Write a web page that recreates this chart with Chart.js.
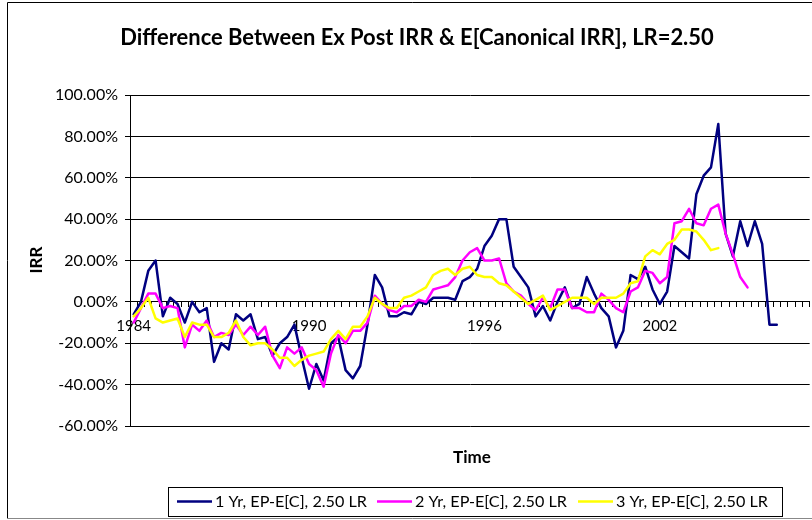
<!DOCTYPE html>
<html><head><meta charset="utf-8">
<script src="https://cdn.jsdelivr.net/npm/chart.js@4/dist/chart.umd.min.js"></script>
<style>
html,body{margin:0;padding:0;background:#fff;overflow:hidden;width:812px;height:520px}
#wrap{position:relative;width:816px;height:520px}
</style></head>
<body><div id="wrap"><canvas id="c" width="816" height="520"></canvas></div>
<script>
// ---- data ----
const startYear = 1984;
const categoryCount = 93; // quarterly categories on the axis
const categories = [];
for (let i = 0; i < categoryCount; i++) categories.push(String(startYear + Math.floor(i / 4)) + ' Q' + (i % 4 + 1));
const tickLabels = ['1984', '1990', '1996', '2002'];
const tickEvery = 24;
const yTicks = [-60, -40, -20, 0, 20, 40, 60, 80, 100];

const titleText = 'Difference Between Ex Post IRR & E[Canonical IRR], LR=2.50';
const xTitle = 'Time';
const yTitle = 'IRR';
const seriesNames = ['1 Yr, EP-E[C], 2.50 LR', '2 Yr, EP-E[C], 2.50 LR', '3 Yr, EP-E[C], 2.50 LR'];
const seriesColors = ['#000080', '#FF00FF', '#FFFF00'];

// values in percent
const oneYr = [-6, 0, 15, 20, -7, 2, -1, -10, 0, -5,
  -3, -29, -20, -23, -6, -9, -6, -18, -17, -26,
  -20, -17, -11, -27, -42, -30, -38, -20, -17, -33,
  -37, -31, -11, 13, 7, -7, -7, -5, -6, 0,
  -1, 2, 2, 2, 1, 10, 12, 16, 27, 32,
  40, 40, 17, 12, 7, -7, -2, -9, 0, 7,
  -3, -1, 12, 4, -3, -7, -22, -14, 13, 11,
  17, 6, -1, 5, 27, 24, 21, 52, 61, 65,
  86, 33, 22, 39, 27, 39, 28, -11, -11];
const twoYr = [-10, -3, 4, 4, -3, -2, -3, -22, -11, -14,
  -9, -17, -15, -16, -11, -16, -12, -16, -12, -26,
  -32, -22, -25, -22, -30, -33, -41, -25, -16, -20,
  -14, -14, -10, 3, -1, -4, -5, -2, -2, 1,
  0, 6, 7, 8, 12, 20, 24, 26, 20, 20,
  21, 9, 5, 3, -1, -4, 2, -3, 6, 6,
  -3, -3, -5, -5, 4, 1, -3, -5, 5, 7,
  15, 14, 9, 12, 38, 39, 45, 38, 37, 45,
  47, 33, 23, 12, 7];
const threeYr = [-7, -3, 2, -8, -10, -9, -8, -17, -10, -11,
  -11, -17, -17, -15, -9, -17, -21, -20, -20, -23,
  -27, -27, -31, -28, -26, -25, -24, -18, -14, -18,
  -12, -12, -7, 2, -1, -3, -3, 2, 3, 5,
  7, 13, 15, 16, 13, 16, 17, 13, 12, 12,
  9, 8, 5, 2, -1, 1, 3, -4, -2, 0,
  2, 2, 2, -1, 2, 2, 2, 4, 9, 10,
  22, 25, 23, 28, 30, 35, 35, 34, 30, 25,
  26];

// ---- drawing ----
const FONT = 'Lato, "DejaVu Sans", sans-serif';
Chart.defaults.font.family = FONT;
Chart.defaults.color = '#000';

function fitFont(ctx, text, weight, baseSize, targetWidth) {
  ctx.font = weight + ' ' + baseSize + 'px ' + FONT;
  const w = ctx.measureText(text).width;
  const size = Math.min(baseSize * 1.3, Math.max(baseSize * 0.8, baseSize * targetWidth / w));
  ctx.font = weight + ' ' + size.toFixed(2) + 'px ' + FONT;
}

const decor = {
  id: 'decor',
  afterDraw(chart) {
    const ctx = chart.ctx;
    ctx.save();
    // chart-area frame
    ctx.lineWidth = 1;
    ctx.strokeStyle = '#000';
    ctx.beginPath();
    ctx.moveTo(7.5, 518.5); ctx.lineTo(7.5, 2.5); ctx.lineTo(830, 2.5);
    ctx.stroke();
    ctx.strokeStyle = '#888';
    ctx.beginPath(); ctx.moveTo(7.5, 518.5); ctx.lineTo(830, 518.5); ctx.stroke();

    // title
    ctx.fillStyle = '#000';
    ctx.textAlign = 'center';
    ctx.textBaseline = 'middle';
    fitFont(ctx, titleText, 'bold', 20, 594);
    ctx.fillText(titleText, 417, 38);

    // axis titles
    ctx.font = 'bold 17px ' + FONT;
    ctx.fillText(xTitle, 472, 458);
    ctx.save();
    ctx.translate(37, 260);
    ctx.rotate(-Math.PI / 2);
    ctx.fillText(yTitle, 0, 0);
    ctx.restore();

    // legend
    ctx.strokeStyle = '#000';
    ctx.lineWidth = 1;
    ctx.strokeRect(168.5, 487.5, 614, 29);
    const starts = [177, 377, 578];
    fitFont(ctx, seriesNames[0], 'normal', 15, 152);
    ctx.textAlign = 'left';
    for (let k = 0; k < 3; k++) {
      ctx.strokeStyle = seriesColors[k];
      ctx.lineWidth = 2.5;
      ctx.beginPath(); ctx.moveTo(starts[k], 501.5); ctx.lineTo(starts[k] + 35, 501.5); ctx.stroke();
      ctx.fillStyle = '#000';
      ctx.fillText(seriesNames[k], starts[k] + 38, 502);
    }
    ctx.restore();
  }
};

new Chart(document.getElementById('c'), {
  type: 'line',
  data: {
    labels: categories,
    datasets: [
      { label: seriesNames[0], data: oneYr, borderColor: seriesColors[0], backgroundColor: seriesColors[0], order: 2 },
      { label: seriesNames[1], data: twoYr, borderColor: seriesColors[1], backgroundColor: seriesColors[1], order: 1 },
      { label: seriesNames[2], data: threeYr, borderColor: seriesColors[2], backgroundColor: seriesColors[2], order: 0 }
    ]
  },
  options: {
    responsive: false,
    animation: false,
    devicePixelRatio: 1,
    events: [],
    layout: { padding: { left: 0, right: 1, top: 95, bottom: 94 } },
    elements: {
      line: { borderWidth: 2.5, tension: 0, borderJoinStyle: 'round', borderCapStyle: 'round' },
      point: { radius: 0 }
    },
    plugins: { legend: { display: false }, title: { display: false }, tooltip: { enabled: false } },
    scales: {
      y: {
        min: -60, max: 100,
        afterFit(scale) { scale.width = 130; },
        afterBuildTicks(scale) { scale.ticks = yTicks.map(v => ({ value: v })); },
        ticks: { font: { size: 16 }, padding: 7, callback: v => v.toFixed(2) + '%' },
        grid: { color: '#000', lineWidth: 1, tickLength: 5 },
        border: { display: true, color: '#000', width: 1 }
      },
      x: {
        type: 'category',
        position: { y: 0 },
        offset: true,
        grid: { offset: true, drawOnChartArea: false, tickLength: 5, color: '#000' },
        border: { display: true, color: '#000', width: 1 },
        ticks: {
          autoSkip: false, maxRotation: 0, minRotation: 0, padding: 10,
          font: { size: 15 },
          callback(value, index) { return index % tickEvery === 0 ? tickLabels[index / tickEvery] : ''; }
        }
      }
    }
  },
  plugins: [decor]
});
</script>
</body></html>
